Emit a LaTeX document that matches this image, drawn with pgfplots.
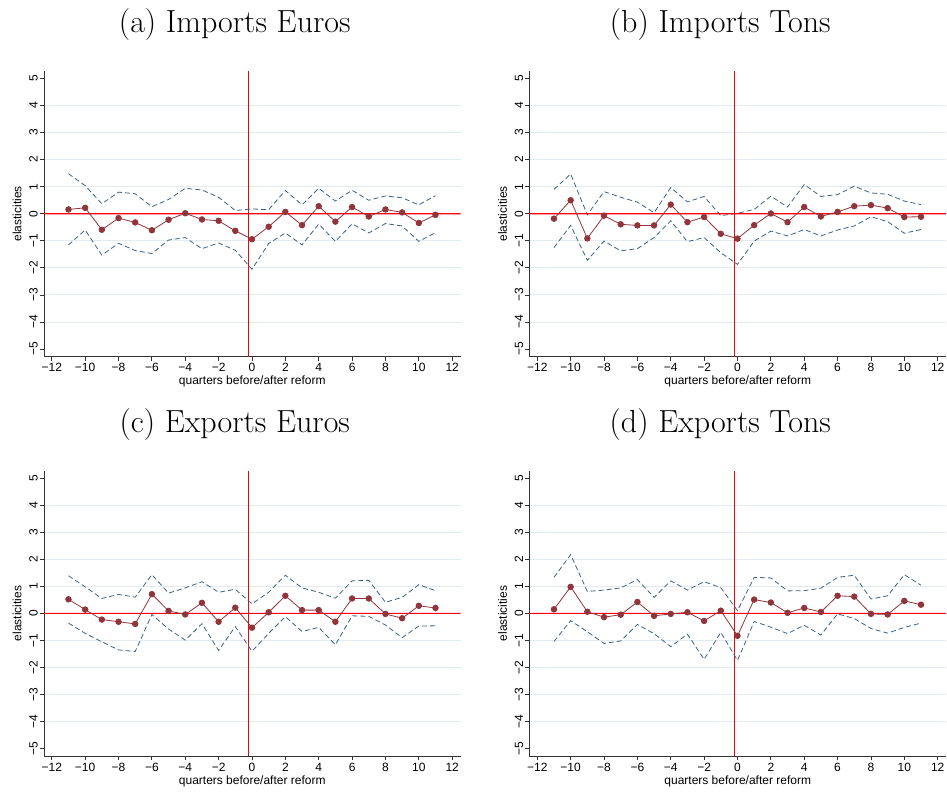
\documentclass[border=0pt]{standalone}
\usepackage{pgfplots}
\pgfplotsset{compat=1.18}
\usepackage{pgfplotstable}
\usepackage{fontspec}
\newfontfamily\statafont{Liberation Sans}
\definecolor{maroonS}{RGB}{144,53,59}
\definecolor{navyS}{RGB}{62,98,128}
\definecolor{gridS}{RGB}{226,235,239}
\definecolor{refred}{RGB}{255,0,0}

\pgfplotstableread{
x b lo hi
-11 0.16 -1.15 1.48
-10 0.22 -0.60 1.04
-9 -0.59 -1.53 0.37
-8 -0.16 -1.09 0.80
-7 -0.32 -1.36 0.74
-6 -0.61 -1.47 0.26
-5 -0.22 -0.97 0.53
-4 0.02 -0.88 0.94
-3 -0.21 -1.29 0.88
-2 -0.26 -1.08 0.61
-1 -0.63 -1.35 0.12
0 -0.94 -2.05 0.18
1 -0.48 -1.10 0.15
2 0.07 -0.71 0.86
3 -0.42 -1.15 0.33
4 0.28 -0.38 0.94
5 -0.29 -1.02 0.47
6 0.25 -0.37 0.87
7 -0.10 -0.71 0.50
8 0.16 -0.36 0.66
9 0.05 -0.45 0.59
10 -0.34 -1.02 0.33
11 -0.04 -0.70 0.67
}\tabA

\pgfplotstableread{
x b lo hi
-11 -0.18 -1.25 0.90
-10 0.50 -0.43 1.47
-9 -0.91 -1.72 -0.04
-8 -0.07 -1.01 0.82
-7 -0.39 -1.37 0.61
-6 -0.43 -1.29 0.43
-5 -0.43 -0.88 0.04
-4 0.34 -0.26 0.97
-3 -0.31 -1.03 0.44
-2 -0.12 -0.88 0.64
-1 -0.74 -1.44 -0.07
0 -0.92 -1.87 0.02
1 -0.42 -1.01 0.16
2 0.01 -0.64 0.65
3 -0.31 -0.82 0.25
4 0.25 -0.58 1.08
5 -0.10 -0.82 0.64
6 0.07 -0.60 0.71
7 0.28 -0.45 1.02
8 0.32 -0.11 0.77
9 0.21 -0.29 0.72
10 -0.12 -0.72 0.47
11 -0.11 -0.58 0.34
}\tabB

\pgfplotstableread{
x b lo hi
-11 0.52 -0.36 1.39
-10 0.14 -0.74 0.98
-9 -0.23 -1.05 0.55
-8 -0.31 -1.35 0.70
-7 -0.39 -1.41 0.60
-6 0.71 -0.04 1.43
-5 0.09 -0.58 0.75
-4 -0.04 -0.99 0.94
-3 0.39 -0.38 1.17
-2 -0.31 -1.37 0.78
-1 0.21 -0.49 0.89
0 -0.53 -1.40 0.35
1 0.04 -0.74 0.78
2 0.65 -0.12 1.41
3 0.12 -0.67 0.94
4 0.12 -0.52 0.78
5 -0.31 -1.16 0.56
6 0.55 -0.09 1.20
7 0.55 -0.11 1.22
8 -0.02 -0.43 0.41
9 -0.18 -0.90 0.59
10 0.28 -0.47 1.06
11 0.20 -0.46 0.84
}\tabC

\pgfplotstableread{
x b lo hi
-11 0.15 -1.04 1.33
-10 0.98 -0.27 2.17
-9 0.06 -0.68 0.81
-8 -0.14 -1.11 0.86
-7 -0.05 -1.02 0.94
-6 0.42 -0.41 1.25
-5 -0.09 -0.75 0.59
-4 -0.02 -1.23 1.20
-3 0.04 -0.77 0.86
-2 -0.28 -1.70 1.17
-1 0.10 -0.70 0.95
0 -0.83 -1.74 0.10
1 0.51 -0.30 1.33
2 0.40 -0.51 1.31
3 0.02 -0.75 0.83
4 0.20 -0.44 0.84
5 0.05 -0.80 0.93
6 0.65 -0.02 1.33
7 0.62 -0.19 1.41
8 -0.02 -0.56 0.53
9 -0.04 -0.73 0.65
10 0.46 -0.52 1.43
11 0.32 -0.36 1.04
}\tabD

\pgfplotsset{
  stata/.style={
    scale only axis, width=312.75pt, height=214.5pt,
    xmin=-12.47, xmax=12.5, ymin=-5.28, ymax=5.28,
    axis x line*=bottom, axis y line*=left,
    axis line style={-, line width=0.6pt, black!80},
    xtick={-12,-10,...,12},
    xticklabels={−12,−10,−8,−6,−4,−2,0,2,4,6,8,10,12},
    ytick={-5,-4,...,5},
    yticklabels={−5,−4,−3,−2,−1,0,1,2,3,4,5},
    tick align=outside, major tick length=3pt,
    major tick style={line width=0.6pt, black!80},
    minor ytick={-4,-3,-2,-1,1,2,3,4}, yminorgrids=true, minor tick length=0pt,
    minor grid style={gridS, line width=0.7pt},
    ticklabel style={font=\statafont\fontsize{9}{10}\selectfont},
    yticklabel style={rotate=90, anchor=south, inner sep=1.5pt},
    xticklabel style={anchor=north, inner sep=2pt},
    xlabel={quarters before/after reform}, ylabel={elasticities},
    label style={font=\statafont\fontsize{9}{10}\selectfont},
    xlabel style={at={(axis description cs:0.5,0)}, anchor=north, inner sep=0pt, yshift=-14.5pt},
    ylabel style={at={(axis description cs:-0.053,0.5)}, rotate=0, anchor=south, inner sep=0pt},
    clip=false,
  },
  est/.style={color=maroonS, line width=0.6pt, mark=*, mark size=2.1pt, mark options={fill=maroonS, draw=maroonS, solid}},
  ci/.style={color=navyS, line width=0.6pt, dash pattern=on 3.75pt off 2.25pt, no marks},
  refl/.style={color=refred, line width=0.8pt, no marks},
}

\newcommand{\panel}[1]{
    \addplot[refl] coordinates {(-0.2,-5.28) (-0.2,5.28)};
    \addplot[ci] table[x=x, y=hi] {#1};
    \addplot[ci] table[x=x, y=lo] {#1};
    \addplot[refl] coordinates {(-12.47,0) (0,0.002) (12.5,0)};
    \addplot[est] table[x=x, y=b] {#1};
}

\begin{document}
\begin{tikzpicture}
\path (0,0) rectangle (710.25pt,-594pt);

\node[font=\fontsize{24}{28}\selectfont, anchor=base] at (176.25pt,-24.75pt) {(a) Imports Euros};
\node[font=\fontsize{24}{28}\selectfont, anchor=base] at (540.75pt,-24.75pt) {(b) Imports Tons};
\node[font=\fontsize{24}{28}\selectfont, anchor=base] at (176.25pt,-324.75pt) {(c) Exports Euros};
\node[font=\fontsize{24}{28}\selectfont, anchor=base] at (540.75pt,-324.75pt) {(d) Exports Tons};

\begin{axis}[stata, at={(33pt,-267.75pt)}, anchor=south west]
\panel{\tabA}
\end{axis}

\begin{axis}[stata, at={(397.5pt,-267.75pt)}, anchor=south west]
\panel{\tabB}
\end{axis}

\begin{axis}[stata, at={(33pt,-567.75pt)}, anchor=south west]
\panel{\tabC}
\end{axis}

\begin{axis}[stata, at={(397.5pt,-567.75pt)}, anchor=south west]
\panel{\tabD}
\end{axis}
\end{tikzpicture}
\end{document}
